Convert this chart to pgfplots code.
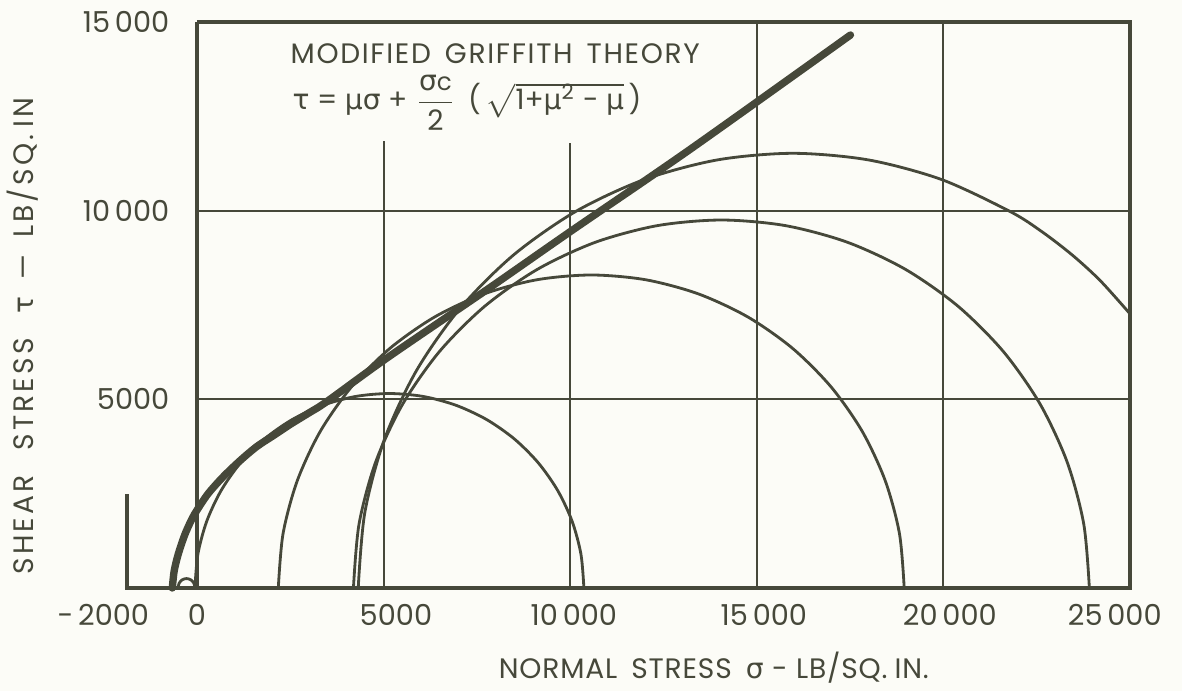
\documentclass[border=0pt]{standalone}
\usepackage{fontspec}
\setmainfont{Poppins}
\newfontfamily\gr{DejaVu Sans}
\usepackage{amsmath}
\usepackage{pgfplots}
\pgfplotsset{compat=1.18}
\usetikzlibrary{backgrounds}
\definecolor{ink}{RGB}{70,72,58}
\definecolor{paper}{RGB}{252,252,247}

\begin{document}
\begin{tikzpicture}
\begin{axis}[
    name=ax, scale only axis,
    width=10.077cm, height=5.66cm,
    xmin=-2000, xmax=25000, ymin=0, ymax=15000,
    axis line style={draw=none}, tick style={draw=none},
    clip=false, scaled x ticks=false, scaled y ticks=false,
    xtick={0,5331,10100,15190,20173,24593},
    xticklabels={0, 5000, 10\,000, 15\,000, 20\,000, 25\,000},
    ytick={5000,10000,15000},
    yticklabels={5000, 10\,000, 15\,000},
    ticklabel style={font=\fontsize{8.2}{9}\selectfont, text=ink},
    xticklabel style={anchor=north, inner sep=0pt, yshift=-0.16cm},
    yticklabel style={anchor=east, inner sep=0pt, xshift=0.477cm},
    xlabel={NORMAL\hspace{0.5em}STRESS\hspace{0.5em}{\gr σ}\hspace{0.3em}-\hspace{0.3em}LB/SQ.\hspace{0.25em}IN.},
    ylabel={SHEAR\hspace{0.9em}STRESS\hspace{0.9em}{\gr τ}\hspace{0.6em}—\hspace{0.6em}LB/SQ.\hspace{0.25em}IN},
    xlabel style={at={(axis description cs:0.587,-0.1413)}, anchor=center, text=ink,
      font=\fontsize{8}{9}\selectfont\addfontfeature{LetterSpace=3}},
    ylabel style={at={(axis description cs:-0.0985,0.445)}, anchor=center, text=ink,
      font=\fontsize{8}{9}\selectfont\addfontfeature{LetterSpace=11}},
]
% frame and grid
\addplot[ink, line width=1.1pt, sharp plot] coordinates {(0,15000) (25000,15000) (25000,0) (-1870,0) (-1870,2500)};
\addplot[ink, line width=1.1pt, sharp plot] coordinates {(0,0) (0,15000)};
\addplot[ink, line width=0.6pt, sharp plot] coordinates {(0,5000) (25000,5000)};
\addplot[ink, line width=0.6pt, sharp plot] coordinates {(0,10000) (25000,10000)};
\addplot[ink, line width=0.6pt, sharp plot] coordinates {(5000,0) (5000,11850)};
\addplot[ink, line width=0.6pt, sharp plot] coordinates {(10000,0) (10000,11790)};
\addplot[ink, line width=0.6pt, sharp plot] coordinates {(15000,0) (15000,15000)};
\addplot[ink, line width=0.6pt, sharp plot] coordinates {(20000,0) (20000,15000)};

% Mohr circles
\addplot[ink, line width=0.8pt, smooth] coordinates {
  (-50,0) (-81,125) (-165,217) (-280,250) (-395,217) (-479,125) (-510,0)};
\addplot[ink, line width=0.8pt, smooth] coordinates {
  (10368,0) (10289,895) (10054,1763) (9670,2577) (9149,3313) (8507,3948)
  (7763,4463) (6939,4843) (6062,5076) (5157,5154) (4252,5076) (3375,4843)
  (2551,4463) (1807,3948) (1165,3313) (644,2577) (260,1763) (25,895) (-54,0)};
\addplot[ink, line width=0.8pt, smooth] coordinates {
  (18950,0) (18823,1440) (18444,2837) (17827,4148) (16988,5332) (15955,6354)
  (14758,7184) (13433,7795) (12021,8169) (10565,8295) (9109,8169) (7697,7795)
  (6372,7184) (5175,6354) (4142,5332) (3303,4148) (2686,2837) (2307,1440) (2180,0)};
\addplot[ink, line width=0.8pt, smooth] coordinates {
  (23911,0) (23761,1693) (23317,3335) (22590,4876) (21604,6269) (20389,7470)
  (18982,8445) (17424,9164) (15764,9604) (14052,9752) (12340,9604) (10680,9164)
  (9122,8445) (7715,7470) (6500,6269) (5514,4876) (4787,3335) (4343,1693) (4193,0)};
\addplot[ink, line width=0.8pt, smooth] coordinates {
  (25000,7266) (24202,8146) (23453,8824) (22647,9437) (21790,9976) (19950,10825)
  (17989,11345) (15967,11520) (13945,11345) (11984,10825) (10144,9976) (8481,8824)
  (7046,7405) (5881,5760) (5024,3940) (4498,2000) (4321,0)};

% envelope
\addplot[ink, line width=2.1pt, smooth, line cap=round] coordinates {
  (-660,0) (-610,450) (-500,900) (-330,1400) (-150,1800) (0,2060) (300,2500)
  (705,2949) (1150,3370) (1599,3745) (2050,4040) (2491,4330) (3000,4640)
  (3475,4937) (5098,6100) (7761,7900) (10011,9450) (13207,11620) (17510,14655)};

\node[anchor=north, text=ink, font=\fontsize{8.2}{9}\selectfont, inner sep=0pt,
  xshift=-0.19cm, yshift=-0.16cm] at (axis cs:-2000,0) {-\,2000};
\node[anchor=west, text=ink, inner sep=0pt,
  font=\fontsize{8}{9}\selectfont\addfontfeature{LetterSpace=6}]
  at (axis cs:2491,14160) {MODIFIED\hspace{0.5em}GRIFFITH\hspace{0.5em}THEORY};
\node[anchor=west, text=ink, font=\fontsize{8}{9}\selectfont, inner sep=0pt]
  at (axis cs:2545,12860) {{\gr τ} = {\gr μσ} + $\dfrac{\text{\gr σ}\text{\scriptsize c}}{\text{2}}$ \,(\,$\sqrt{\vphantom{(}\smash{\text{1+{\gr μ}\textsuperscript{2} - {\gr μ}}}}$\,)};
\end{axis}
\pgfresetboundingbox
\path[use as bounding box] ([xshift=-1.223cm,yshift=-1.03cm]ax.south west) rectangle ([xshift=0.52cm,yshift=0.22cm]ax.north east);
\begin{pgfonlayer}{background}
\fill[paper] (current bounding box.south west) rectangle (current bounding box.north east);
\end{pgfonlayer}
\end{tikzpicture}
\end{document}
